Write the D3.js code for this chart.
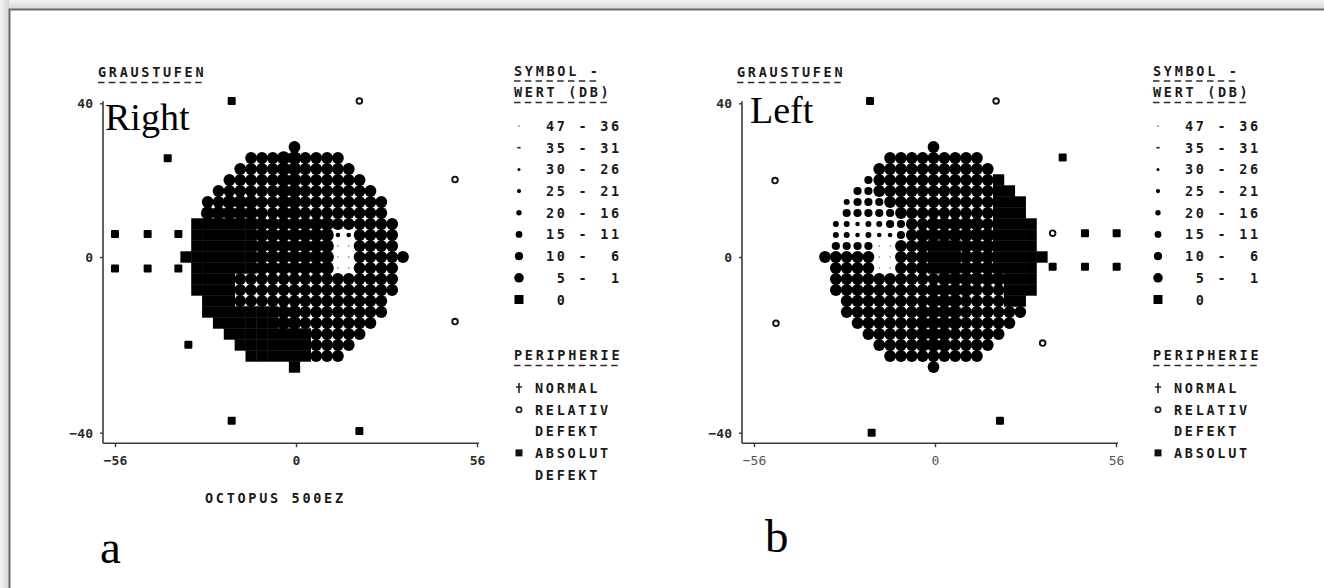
<!DOCTYPE html>
<html><head><meta charset="utf-8">
<script src="https://cdn.jsdelivr.net/npm/d3@7"></script>
<style>
html,body{margin:0;padding:0;background:#fff;}
svg{display:block;}
.mono{font-family:"DejaVu Sans Mono",monospace;fill:#1a1a1a;white-space:pre;font-weight:bold;}
.serif{font-family:"Liberation Serif","Times New Roman",serif;fill:#000;}
</style></head><body>
<svg id="c" width="1324" height="588"></svg>
<script>
// ---------------- DATA ----------------
const xTickValues = [-56, 0, 56];
const yTickValues = [40, 0, -40];
const legendTitle1 = "SYMBOL -";
const legendTitle2 = "WERT (DB)";
const legendLabels = ["47 - 36","35 - 31","30 - 26","25 - 21","20 - 16","15 - 11","10 -  6"," 5 -  1"," 0"];
const legendClasses = [0,1,2,3,4,5,6,7,8];
const peripheryTitle = "PERIPHERIE";
const panelTitles = ["Right", "Left"];
const panelLetters = ["a", "b"];

// grey-scale classes per test location, rows from +10 (top) to -10 (bottom) grid steps,
// each string covers the row symmetrically around the vertical meridian
// 0:47-36 1:35-31 2:30-26 3:25-21 4:20-16 5:15-11 6:10-6 7:5-1 8:0 dB
const rightField = [
  "6",
  "666776666",
  "66667766666",
  "6666677666666",
  "666666776666666",
  "66777667766666666",
  "77777667766666666",
  "8888887777777666666",
  "8888887777777336666",
  "8888887777777006666",
  "888888877777770066666",
  "8888887777777006666",
  "8888666666666666666",
  "8888666666666666666",
  "88866666666666666",
  "88888887766666666",
  "888888776666666",
  "8888888866666",
  "88888886666",
  "888888666",
  "8"
];
const leftField = [
  "6",
  "666666666",
  "66666666666",
  "5666666666668",
  "556666666666688",
  "45556666666666888",
  "55555666666666888",
  "4434455667777768888",
  "4434335677777778888",
  "5555006678887778888",
  "666660066788877788888",
  "6666006678887778888",
  "6666666666777777888",
  "6666666667777666888",
  "66666666777666688",
  "66666667777666666",
  "666666777766666",
  "6666677766666",
  "66667776666",
  "666666666",
  "6"
];
// peripheral points (degrees): type "abs" = absolute defect, "rel" = relative defect
const rightPeriphX = [-19.9, 19.6, -39.7, 49.2, -56, -45.9, -36.4, -56, -45.9, -36.4, -33.3, 49.2, -19.9, 19.6];
const rightPeriphY = [40.6, 40.6, 25.7, 20.2, 6.0, 6.0, 6.0, -2.6, -2.6, -2.6, -20.0, -14.7, -37.3, -39.6];
const rightPeriphT = ["abs","rel","abs","rel","abs","abs","abs","abs","abs","abs","abs","rel","abs","abs"];
const leftPeriphX = [-20.1, 18.9, -49.5, 39.5, 36.4, 46.4, 56.2, 36.4, 46.4, 56.2, -49.2, 33.3, 20.1, -19.6];
const leftPeriphY = [40.6, 40.6, 19.9, 25.9, 6.2, 6.2, 6.2, -2.2, -2.2, -2.2, -15.1, -19.6, -37.3, -40.0];
const leftPeriphT = ["abs","rel","rel","abs","rel","abs","abs","abs","abs","abs","rel","rel","abs","abs"];
const peripheryLegendRight = [["norm","NORMAL"],["rel","RELATIV"],[null,"DEFEKT"],["abs","ABSOLUT"],[null,"DEFEKT"]];
const peripheryLegendLeft  = [["norm","NORMAL"],["rel","RELATIV"],[null,"DEFEKT"],["abs","ABSOLUT"]];

// ---------------- DRAW ----------------
const svg = d3.select("#c");

// frame with shadow
const defs = svg.append("defs");
const gH = defs.append("linearGradient").attr("id","gh").attr("x1",0).attr("x2",0).attr("y1",0).attr("y2",1);
gH.append("stop").attr("offset",0).attr("stop-color","#f2f2f2");
gH.append("stop").attr("offset",1).attr("stop-color","#d6d6d6");
const gV = defs.append("linearGradient").attr("id","gv").attr("x1",0).attr("x2",1).attr("y1",0).attr("y2",0);
gV.append("stop").attr("offset",0).attr("stop-color","#f2f2f2");
gV.append("stop").attr("offset",1).attr("stop-color","#d6d6d6");
svg.append("rect").attr("x",0).attr("y",0).attr("width",1324).attr("height",9).attr("fill","url(#gh)");
svg.append("rect").attr("x",0).attr("y",0).attr("width",9).attr("height",588).attr("fill","url(#gv)");
svg.append("path").attr("d","M9.5,588V9.5H1324").attr("fill","none").attr("stroke","#6b6b6b").attr("stroke-width",2);

const classR = [0.7, 0, 1.4, 2.3, 3.0, 4.1, 5.9, 6.8];
const legendR = [0.8, 0, 1.5, 2.1, 2.7, 3.4, 4.1, 4.8];

function drawSymbol(g, cls, px, py, rr, w, h){
  if (cls === 8) {
    g.append("rect").attr("x",px-w/2).attr("y",py-h/2).attr("width",w).attr("height",h).attr("fill","#000");
  } else if (cls === 1) {
    g.append("rect").attr("x",px-1.6).attr("y",py-0.8).attr("width",3.2).attr("height",1.6).attr("fill","#222");
  } else {
    g.append("circle").attr("cx",px).attr("cy",py).attr("r",rr[cls]).attr("fill",cls===0?"#555":"#000");
  }
}

function underline(g, x1, x2, y){
  g.append("line").attr("x1",x1).attr("x2",x2).attr("y1",y).attr("y2",y)
    .attr("stroke","#2a2a2a").attr("stroke-width",1.5).attr("stroke-dasharray","6.5 4.3");
}

function monoText(g, x, y, s, size, ls, anchor){
  return g.append("text").attr("class","mono").attr("x",x).attr("y",y)
    .attr("font-size",size).attr("letter-spacing",ls).attr("text-anchor",anchor||"start").text(s);
}

function panel(idx, dx, field, px, py, pt, perLegend){
  const g = svg.append("g");
  const x = d3.scaleLinear().domain([-56,56]).range([115+dx, 477+dx]);
  const y = d3.scaleLinear().domain([-40,0,40]).range([432.7,257,103.3]);
  const axX = x(-56) - 12, axY = y(-40) + 10.5;

  // axes
  g.append("line").attr("x1",axX).attr("x2",axX).attr("y1",y(40)-2).attr("y2",axY).attr("stroke","#3a3a3a").attr("stroke-width",1.6);
  g.append("line").attr("x1",axX).attr("x2",x(56)+2).attr("y1",axY).attr("y2",axY).attr("stroke","#3a3a3a").attr("stroke-width",1.6);
  const yAx = g.append("g").attr("transform",`translate(${axX},0)`)
    .call(d3.axisLeft(y).tickValues(yTickValues).tickSize(3).tickFormat(d3.format("d")));
  yAx.select(".domain").remove();
  yAx.selectAll("line").attr("stroke","#3a3a3a").attr("stroke-width",1.4);
  yAx.selectAll("text").attr("font-size",13).attr("x",-10).attr("dy","0.35em")
    .style("font-family","DejaVu Sans Mono, monospace").style("font-weight","bold").attr("fill","#2a2a2a");
  const xAx = g.append("g").attr("transform",`translate(0,${axY})`)
    .call(d3.axisBottom(x).tickValues(xTickValues).tickSize(4).tickFormat(d3.format("d")));
  xAx.select(".domain").remove();
  xAx.selectAll("line").attr("stroke","#3a3a3a").attr("stroke-width",1.4);
  xAx.selectAll("text").attr("font-size",13).attr("y",17).attr("dy","0.35em")
    .style("font-family","DejaVu Sans Mono, monospace").style("font-weight", idx===0?"bold":"normal")
    .attr("fill", idx===0?"#2a2a2a":"#555");

  // field grid
  const cx = x(0) - 1.5, cy = y(0);
  const gx = d3.scaleLinear().domain([-10,10]).range([cx-108.5, cx+108.5]);
  const gy = d3.scaleLinear().domain([-10,10]).range([cy+110, cy-110]);
  const w = gx(1)-gx(0) + 0.4, h = gy(0)-gy(1) + 0.4;
  const fg = g.append("g");
  field.forEach((s, i) => {
    const j = 10 - i, half = (s.length - 1) / 2;
    for (let c = 0; c < s.length; c++) {
      drawSymbol(fg, +s[c], gx(c - half), gy(j), classR, w, h);
    }
  });

  // periphery
  px.forEach((vx, i) => {
    const X = x(vx), Y = y(py[i]);
    if (pt[i] === "abs") g.append("rect").attr("x",X-4).attr("y",Y-4).attr("width",8).attr("height",8).attr("rx",1).attr("fill","#000");
    else g.append("circle").attr("cx",X).attr("cy",Y).attr("r",2.8).attr("fill","none").attr("stroke","#111").attr("stroke-width",1.9);
  });

  // titles
  monoText(g, 98+dx, 77, "GRAUSTUFEN", 13.5, 2.7);
  underline(g, 98+dx, 205+dx, 82.5);
  g.append("text").attr("class","serif").attr("x", idx===0?105:750).attr("y", idx===0?130:123)
    .attr("font-size",38).text(panelTitles[idx]);
  g.append("text").attr("class","serif").attr("x", idx===0?100:765).attr("y", idx===0?563:552)
    .attr("font-size",47).text(panelLetters[idx]);
  if (idx===0) monoText(g, 205, 503, "OCTOPUS 500EZ", 13.5, 2.7);

  // legend
  const lx = 514 + dx;
  monoText(g, lx, 76, legendTitle1, 13.5, 2.7);
  underline(g, lx, lx+84, 81);
  monoText(g, lx, 97, legendTitle2, 13.5, 2.7);
  underline(g, lx, lx+94, 102.5);
  const rowY = d3.scaleLinear().domain([0,8]).range([126, 299.5]);
  legendLabels.forEach((t, i) => {
    drawSymbol(g, legendClasses[i], lx+5, rowY(i), legendR, 9, 9);
    monoText(g, lx+32, rowY(i)+5, t, 13.5, 2.7);
  });
  monoText(g, lx, 360, peripheryTitle, 13.5, 2.7);
  underline(g, lx, lx+104, 365.5);
  const py0 = d3.scaleLinear().domain([0,4]).range([388, 474.5]);
  perLegend.forEach((d, i) => {
    const Y = py0(i), X = lx+5;
    if (d[0]==="norm") g.append("path").attr("d",`M${X},${Y-5}V${Y+5}M${X-3},${Y-1}H${X+3}`).attr("stroke","#222").attr("stroke-width",1.6);
    if (d[0]==="rel") g.append("circle").attr("cx",X).attr("cy",Y).attr("r",2.6).attr("fill","none").attr("stroke","#222").attr("stroke-width",1.7);
    if (d[0]==="abs") g.append("rect").attr("x",X-3.5).attr("y",Y-3.5).attr("width",7).attr("height",7).attr("fill","#111");
    monoText(g, lx+21, Y+5, d[1], 13.5, 2.7);
  });
}

panel(0, 0, rightField, rightPeriphX, rightPeriphY, rightPeriphT, peripheryLegendRight);
panel(1, 639, leftField, leftPeriphX, leftPeriphY, leftPeriphT, peripheryLegendLeft);
</script>
</body></html>
